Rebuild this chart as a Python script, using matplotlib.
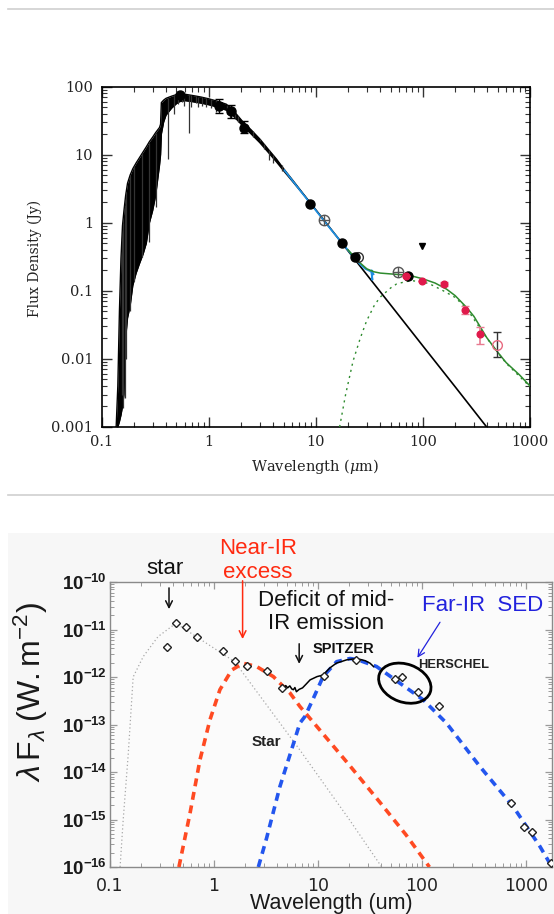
import numpy as np
import matplotlib
matplotlib.use('Agg')
import matplotlib.pyplot as plt
from matplotlib.patches import Ellipse, Rectangle
from matplotlib.lines import Line2D
import matplotlib.transforms as mtransforms
from matplotlib.ticker import LogLocator, NullFormatter, FixedLocator, FixedFormatter

plt.rcParams['mathtext.fontset'] = 'custom'
plt.rcParams['mathtext.rm'] = 'Liberation Sans'
plt.rcParams['mathtext.sf'] = 'Liberation Sans'
plt.rcParams['mathtext.it'] = 'Liberation Sans:italic'
plt.rcParams['mathtext.bf'] = 'Liberation Sans:bold'

# ======================= TOP PANEL DATA (Flux density, Jy) =======================
spec_wl = [0.137, 0.142, 0.147, 0.152, 0.157, 0.162, 0.168, 0.175, 0.185, 0.196, 0.21, 0.226,
           0.245, 0.262, 0.28, 0.30, 0.32, 0.348, 0.356, 0.362, 0.38, 0.40, 0.45, 0.50, 0.535,
           0.6, 0.7, 0.85, 1.0, 1.2, 1.46, 1.65, 2.1, 2.5, 3.0, 3.6, 4.3, 5.1, 6.1, 8.8]
spec_hi = [0.001, 0.004, 0.05, 0.3, 0.9, 1.5, 2.5, 3.8, 5.0, 6.2, 7.5, 9.0,
           11, 13, 15.5, 18, 21, 25, 28, 58, 63, 67, 72, 76, 78,
           77, 74, 70, 66, 61, 55, 47, 30, 23, 17, 12, 8.6, 6.0, 4.2, 2.0]
spec_lo = [0.001, 0.001, 0.0012, 0.0015, 0.002, 0.003, 0.02, 0.04, 0.06, 0.12, 0.18, 0.25,
           0.35, 0.5, 1.0, 1.5, 2.5, 7, 10, 20, 30, 38, 48, 56, 60,
           62, 60, 57, 54, 50, 45, 39, 26, 20, 15, 10.8, 7.8, 5.6, 4.0, 2.0]
tail_wl = [8.8, 20, 50, 100, 200, 394]
tail_f = [2.0, 0.387, 0.062, 0.0155, 0.0039, 0.001]

spike_wl = [0.155, 0.158, 0.164, 0.17, 0.183, 0.203, 0.24, 0.277, 0.32, 0.417, 0.48, 0.52,
            0.56, 0.59, 0.65, 0.69, 0.76, 0.8, 0.86, 0.95, 1.05, 1.18, 1.28, 1.35, 1.5,
            1.57, 1.75, 1.9, 2.25, 2.6, 3.0, 3.3, 3.7, 4.0, 4.8]
spike_hi = [0.6, 1.0, 1.8, 2.8, 4.8, 6.8, 10.5, 15, 21, 68, 74, 77,
            78, 77, 75, 74, 72, 71, 70, 67, 65, 61, 59, 57, 53,
            50, 43, 37, 27, 22, 17, 14.5, 11.5, 10, 7]
spike_lo = [0.003, 0.0019, 0.0027, 0.01, 0.05, 0.14, 0.31, 0.52, 1.7, 8.6, 40, 55,
            60, 52, 21, 50, 57, 50, 52, 50, 48, 42, 45, 46, 40,
            35, 33, 30, 24, 18, 16, 12, 8.2, 7.5, 5.8]

irs_wl = [5.1, 7, 10, 14, 18, 22, 26, 29, 31, 33, 33.8, 33.3, 34.6]
irs_f = [5.9, 3.1, 1.52, 0.78, 0.48, 0.33, 0.245, 0.21, 0.2, 0.19, 0.145, 0.2, 0.175]

model_wl = [20, 25, 30, 35, 40, 50, 60, 70, 80, 100, 130, 166, 200, 256, 300, 394, 500, 600, 800, 1000]
model_f = [0.40, 0.27, 0.21, 0.19, 0.182, 0.177, 0.173, 0.17, 0.164, 0.15, 0.13, 0.106, 0.085,
           0.057, 0.042, 0.0206, 0.0125, 0.0088, 0.0058, 0.004]

dust_wl = [16.7, 19, 22.3, 26, 29.8, 35, 39.7, 50, 56.8, 70, 81, 100, 116, 150, 200, 256, 394, 600, 1000]
dust_f = [0.001, 0.003, 0.0093, 0.02, 0.036, 0.06, 0.08, 0.11, 0.126, 0.137, 0.14, 0.135, 0.126,
          0.103, 0.08, 0.055, 0.0203, 0.0086, 0.0039]

phot_wl = [0.535, 1.24, 1.63, 2.12, 8.9, 17.7, 23.3, 72.5]
phot_f = [74, 52, 43, 25, 1.88, 0.5, 0.31, 0.166]
phot_elo = [0, 11, 8, 4, 0, 0, 0, 0]
phot_ehi = [0, 14, 10, 6.6, 0, 0, 0, 0]

cross_wl = [11.9, 59]
cross_f = [1.1, 0.186]
open_wl = [24.9]
open_f = [0.31]

red_wl = [70, 99, 157, 249, 345]
red_f = [0.165, 0.14, 0.126, 0.052, 0.023]
red_elo = [0, 0, 0.008, 0.006, 0.0063]
red_ehi = [0, 0, 0.008, 0.007, 0.006]

pink_wl = [494]
pink_f = [0.016]
pink_elo = [0.0052]
pink_ehi = [0.0085]

ulim_wl = [99]
ulim_f = [0.45]

top_xticks = [0.1, 1, 10, 100, 1000]
top_xlabels = ['0.1', '1', '10', '100', '1000']
top_yticks = [0.001, 0.01, 0.1, 1, 10, 100]
top_ylabels = ['0.001', '0.01', '0.1', '1', '10', '100']

# ======================= BOTTOM PANEL DATA (lambda F_lambda, W m^-2) =======================
sed_wl = [0.356, 0.43, 0.538, 0.68, 1.21, 1.58, 2.09, 3.21, 4.5, 11.4, 23.2, 55, 63.8, 91, 147,
          713, 955, 1132, 1727]
sed_f = [4.3e-12, 1.35e-11, 1.11e-11, 7.1e-12, 3.6e-12, 2.14e-12, 1.7e-12, 1.36e-12, 6.0e-13,
         1.07e-12, 2.3e-12, 9.2e-13, 1.0e-12, 4.8e-13, 2.45e-13, 2.2e-15, 7.1e-16, 5.4e-16, 1.2e-16]

star_wl = [0.125, 0.134, 0.15, 0.167, 0.209, 0.29, 0.43, 1.58, 6.7, 20, 41]
star_f = [1e-16, 1e-15, 2.5e-14, 1e-12, 2.7e-12, 7.1e-12, 1.35e-11, 2.1e-12, 2.9e-14, 1e-15, 1e-16]

nir_wl = [0.46, 0.588, 0.733, 0.915, 1.14, 1.48, 1.9, 2.57, 3.72, 5.38, 6.7, 10, 20, 39.4, 70, 118]
nir_f = [1e-16, 1.35e-15, 1.8e-14, 1.26e-13, 5.4e-13, 1.4e-12, 1.95e-12, 1.66e-12, 1.02e-12,
         4.6e-13, 2.4e-13, 8.5e-14, 1.4e-14, 2.3e-15, 4.8e-16, 1e-16]

fir_wl = [2.67, 3.2, 4.3, 5.5, 6.7, 7.5, 9.0, 11.2, 15.1, 20.3, 23.5, 36.6, 61.4, 103, 172, 361,
          755, 1364, 1780]
fir_f = [1e-16, 4e-16, 4.9e-15, 2.7e-14, 1.07e-13, 1.48e-13, 3.5e-13, 1.02e-12, 2.1e-12, 2.45e-12,
         2.35e-12, 1.66e-12, 7.4e-13, 3.3e-13, 1.07e-13, 1.3e-14, 1.86e-15, 2.7e-16, 1e-16]

spz_wl = [4.64, 4.9, 5.1, 5.36, 5.6, 5.8, 6.0, 6.2, 6.6, 7.1, 7.7, 8.4, 9.8, 11.2, 13.0, 15.0,
          18.9, 22, 25.4, 28.5, 31.7, 34.2]
spz_f = [5.75e-13, 6.6e-13, 5.9e-13, 6.5e-13, 5.6e-13, 5.4e-13, 6.0e-13, 4.9e-13, 5.5e-13, 5.9e-13,
         7.1e-13, 8.7e-13, 1.02e-12, 1.1e-12, 1.55e-12, 1.95e-12, 2.3e-12, 2.4e-12, 2.35e-12,
         2.2e-12, 1.95e-12, 1.66e-12]

bot_xticks = [0.1, 1, 10, 100, 1000]
bot_xlabels = ['0.1', '1', '10', '100', '1000']
bot_yticks = [1e-16, 1e-15, 1e-14, 1e-13, 1e-12, 1e-11, 1e-10]
bot_ylabels = [r'$\mathbf{10^{-16}}$', r'$\mathbf{10^{-15}}$', r'$\mathbf{10^{-14}}$',
               r'$\mathbf{10^{-13}}$', r'$\mathbf{10^{-12}}$', r'$\mathbf{10^{-11}}$',
               r'$\mathbf{10^{-10}}$']

# ======================= FIGURE =======================
W, H = 554, 914
fig = plt.figure(figsize=(W / 100, H / 100), dpi=100)
fig.patch.set_facecolor('white')

# separators and pasted-image background
fig.add_artist(Line2D([8 / W, 1], [1 - 8.5 / H] * 2, color='#cfcfcf', lw=1.2))
fig.add_artist(Line2D([8 / W, 1], [1 - 495 / H] * 2, color='#cfcfcf', lw=1.2))
fig.add_artist(Rectangle((8 / W, 0), 1 - 8 / W, 1 - 533 / H, transform=fig.transFigure,
                         facecolor='#f7f7f7', edgecolor='none', zorder=-5))

serif = 'DejaVu Serif'
sans = 'Liberation Sans'

# ---------------- top axes ----------------
ax1 = fig.add_axes([101.5 / W, 1 - 427 / H, (530 - 101.5) / W, (427 - 86.5) / H])
ax1.set_xscale('log')
ax1.set_yscale('log')
ax1.set_xlim(0.1, 1000)
ax1.set_ylim(0.001, 100)

ax1.fill_between(spec_wl, spec_lo, spec_hi, color='black', lw=0, zorder=2)
ax1.plot(spec_wl, spec_hi, color='black', lw=1.0, zorder=2)
ax1.plot(spec_wl, spec_lo, color='black', lw=1.0, zorder=2)
ax1.vlines(spike_wl, spike_lo, spike_hi, color='#333333', lw=0.9, zorder=2)
ax1.plot(tail_wl, tail_f, color='black', lw=1.2, zorder=2)
ax1.plot(irs_wl, irs_f, color='#1f8fe0', lw=1.3, zorder=3)
ax1.plot(dust_wl, dust_f, color='#2e8b2e', lw=1.0, ls=(0, (1.5, 3)), zorder=3)
ax1.plot(model_wl, model_f, color='#2e8b2e', lw=1.1, zorder=3)

ax1.errorbar(phot_wl, phot_f, yerr=[phot_elo, phot_ehi], fmt='o', color='black', ms=6.5,
             elinewidth=1.0, capsize=3, zorder=5)
ax1.plot(cross_wl, cross_f, 'o', mfc='none', mec='#555555', ms=7.5, mew=1.0, zorder=5)
ax1.plot(cross_wl, cross_f, '+', color='#555555', ms=7.5, mew=1.0, zorder=5)
ax1.plot(open_wl, open_f, 'o', mfc='none', mec='#333333', ms=7, mew=1.0, zorder=5)
ax1.errorbar(red_wl, red_f, yerr=[red_elo, red_ehi], fmt='o', color='#e0194b', ms=4.8,
             ecolor='#e87a90', elinewidth=1.2, capsize=3, zorder=6)
ax1.errorbar(pink_wl, pink_f, yerr=[pink_elo, pink_ehi], fmt='o', mfc='none', mec='#e86a80',
             ms=7, mew=1.0, ecolor='#333333', elinewidth=1.0, capsize=3, zorder=6)
ax1.plot(ulim_wl, ulim_f, 'v', color='black', ms=5, zorder=6)

for sp in ax1.spines.values():
    sp.set_linewidth(1.2)
ax1.xaxis.set_major_locator(FixedLocator(top_xticks))
ax1.xaxis.set_major_formatter(FixedFormatter(top_xlabels))
ax1.yaxis.set_major_locator(FixedLocator(top_yticks))
ax1.yaxis.set_major_formatter(FixedFormatter(top_ylabels))
ax1.xaxis.set_minor_locator(LogLocator(base=10, subs=np.arange(2, 10), numticks=20))
ax1.yaxis.set_minor_locator(LogLocator(base=10, subs=np.arange(2, 10), numticks=20))
ax1.xaxis.set_minor_formatter(NullFormatter())
ax1.yaxis.set_minor_formatter(NullFormatter())
ax1.tick_params(which='both', direction='in', top=True, right=True, color='#333333')
ax1.tick_params(which='major', length=7.5, width=1.0, labelsize=10.5, pad=6)
ax1.tick_params(which='minor', length=3.8, width=0.8)
for lab in ax1.get_xticklabels() + ax1.get_yticklabels():
    lab.set_fontfamily(serif)
    lab.set_color('#222222')
ax1.set_xlabel(r'Wavelength ($\mu$m)', fontsize=10.5, fontfamily=serif, color='#222222',
               math_fontfamily='dejavuserif', va='center')
ax1.xaxis.set_label_coords(0.498, -0.115)
ax1.set_ylabel('Flux Density (Jy)', fontsize=10, fontfamily=serif, color='#222222', va='center')
ax1.yaxis.set_label_coords(-0.156, 0.494)

# ---------------- bottom axes ----------------
ax2 = fig.add_axes([110 / W, 1 - 867 / H, 442 / W, 285 / H])
ax2.set_facecolor('#fbfbfb')
ax2.set_xscale('log')
ax2.set_yscale('log')
ax2.set_xlim(0.1, 1780)
ax2.set_ylim(1e-16, 1e-10)

ax2.plot(star_wl, star_f, color='#a8a8a8', lw=0.9, ls=(0, (1, 2)), zorder=2)
ax2.plot(nir_wl, nir_f, color='#ff4a22', lw=2.6, ls=(0, (2.2, 1.6)), zorder=3)
ax2.plot(fir_wl, fir_f, color='#2356ee', lw=2.6, ls=(0, (2.2, 1.6)), zorder=3)
ax2.plot(spz_wl, spz_f, color='black', lw=1.1, zorder=4)
ax2.plot(sed_wl, sed_f, 'D', mfc='white', mec='#222222', ms=4.2, mew=1.0, zorder=5)

ell_trans = fig.dpi_scale_trans + mtransforms.ScaledTranslation(0.667, 0.645, ax2.transAxes)
ax2.add_patch(Ellipse((0, 0), 0.54, 0.38, angle=-20, transform=ell_trans, fill=False,
                      edgecolor='black', lw=2.0, zorder=6))

for sp in ax2.spines.values():
    sp.set_color('#8a8a8a')
    sp.set_linewidth(1.0)
ax2.xaxis.set_major_locator(FixedLocator(bot_xticks))
ax2.xaxis.set_major_formatter(FixedFormatter(bot_xlabels))
ax2.yaxis.set_major_locator(FixedLocator(bot_yticks))
ax2.yaxis.set_major_formatter(FixedFormatter(bot_ylabels))
ax2.xaxis.set_minor_locator(LogLocator(base=10, subs=np.arange(2, 10), numticks=20))
ax2.yaxis.set_minor_locator(LogLocator(base=10, subs=np.arange(2, 10), numticks=20))
ax2.xaxis.set_minor_formatter(NullFormatter())
ax2.yaxis.set_minor_formatter(NullFormatter())
ax2.tick_params(which='both', direction='in', top=True, right=True, color='#9a9a9a')
ax2.tick_params(which='major', length=5, width=0.9)
ax2.tick_params(which='minor', length=3, width=0.7)
ax2.tick_params(axis='x', which='major', labelsize=12.5, pad=7, labelcolor='#222222')
ax2.tick_params(axis='y', which='major', labelsize=13.5, pad=2, labelcolor='#1a1a1a')
for lab in ax2.get_xticklabels():
    lab.set_fontfamily('DejaVu Sans')

ax2.text(0.5, -0.147, 'Wavelength (um)', transform=ax2.transAxes, ha='center', va='baseline',
         fontsize=15.5, fontfamily=sans, color='#1a1a1a')
ax2.text(-0.18, 0.614, r'$\lambda\,\mathrm{F}_{\lambda}\;\mathrm{(W.m^{-2})}$',
         transform=ax2.transAxes, rotation=90, ha='center', va='center', fontsize=23,
         color='#1a1a1a')

# annotations
ax2.text(0.124, 1.046, 'star', transform=ax2.transAxes, ha='center', va='center',
         fontsize=16, fontfamily=sans, color='#111111')
ax2.text(0.335, 1.076, 'Near-IR\nexcess', transform=ax2.transAxes, ha='center', va='center',
         fontsize=16, fontfamily=sans, color='#ff2a10', linespacing=1.2)
ax2.text(0.489, 0.895, 'Deficit of mid-\nIR emission', transform=ax2.transAxes, ha='center',
         va='center', fontsize=16, fontfamily=sans, color='#111111', linespacing=1.1)
ax2.text(0.842, 0.919, 'Far-IR  SED', transform=ax2.transAxes, ha='center', va='center',
         fontsize=16, fontfamily=sans, color='#2222dd')
ax2.text(0.529, 0.765, 'SPITZER', transform=ax2.transAxes, ha='center', va='center',
         fontsize=10.5, fontfamily=sans, fontweight='bold', color='#111111')
ax2.text(0.778, 0.709, 'HERSCHEL', transform=ax2.transAxes, ha='center', va='center',
         fontsize=9.3, fontfamily=sans, fontweight='bold', color='#222222')
ax2.text(0.353, 0.439, 'Star', transform=ax2.transAxes, ha='center', va='center',
         fontsize=11, fontfamily=sans, fontweight='bold', color='#222222')

arrow_kw = dict(xycoords='axes fraction', textcoords='axes fraction', annotation_clip=False)
ax2.annotate('', xy=(0.1335, 0.895), xytext=(0.1335, 0.989),
             arrowprops=dict(arrowstyle='->', color='#111111', lw=1.1, mutation_scale=12), **arrow_kw)
ax2.annotate('', xy=(0.300, 0.790), xytext=(0.300, 1.014),
             arrowprops=dict(arrowstyle='->', color='#ff2a10', lw=1.1, mutation_scale=12), **arrow_kw)
ax2.annotate('', xy=(0.428, 0.703), xytext=(0.428, 0.793),
             arrowprops=dict(arrowstyle='->', color='#111111', lw=1.1, mutation_scale=12), **arrow_kw)
ax2.annotate('', xy=(0.692, 0.726), xytext=(0.750, 0.867),
             arrowprops=dict(arrowstyle='->', color='#2222dd', lw=0.9, mutation_scale=12), **arrow_kw)

fig.savefig('out.png', dpi=100, facecolor=fig.get_facecolor())
